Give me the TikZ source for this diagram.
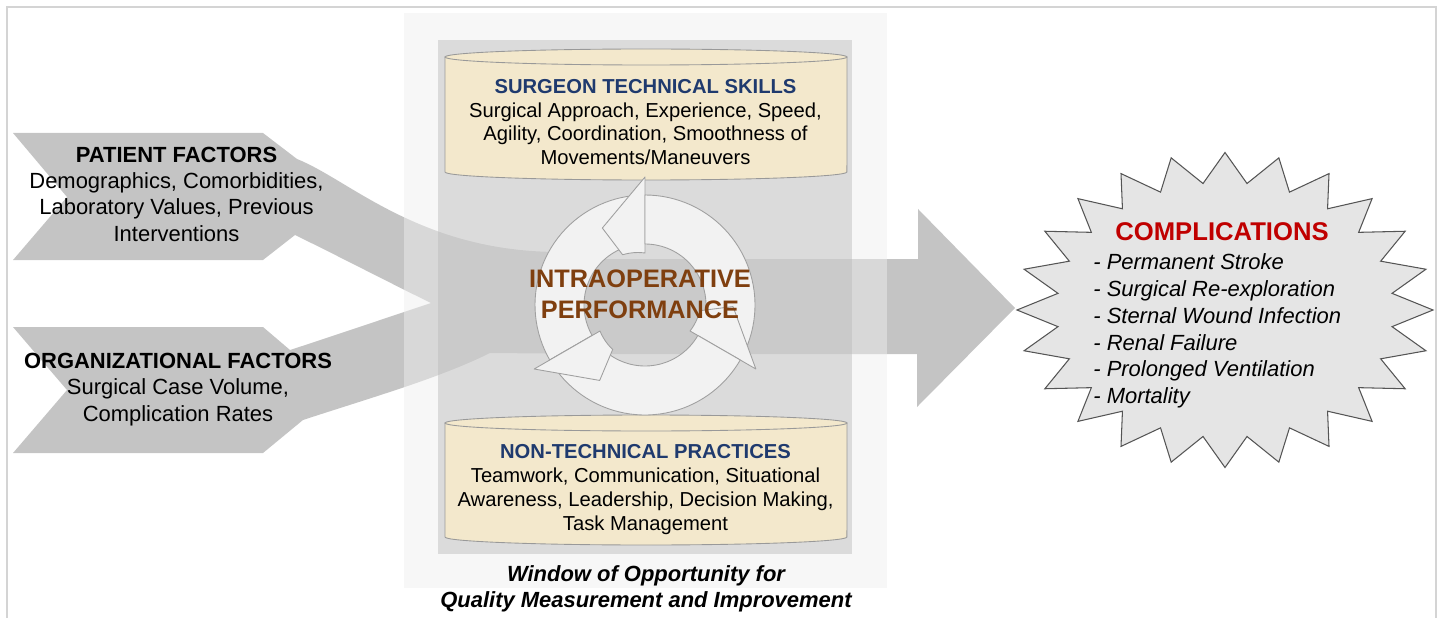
\documentclass[tikz,border=0pt]{standalone}
\usepackage{fontspec}
\setmainfont{Liberation Sans}
\usetikzlibrary{arrows.meta,positioning}

\definecolor{framegray}{HTML}{D4D4D4}
\definecolor{flowgray}{HTML}{C4C4C4}
\definecolor{windowgray}{HTML}{EEEEEE}
\definecolor{panelgray}{HTML}{BBBBBB}
\definecolor{cylbeige}{HTML}{F3E8CC}
\definecolor{cyledge}{HTML}{999999}
\definecolor{ringfill}{HTML}{F2F2F2}
\definecolor{ringedge}{HTML}{A0A0A0}
\definecolor{burstfill}{HTML}{E5E5E5}
\definecolor{burstedge}{HTML}{555555}
\definecolor{skillblue}{HTML}{1F3A6E}
\definecolor{perfbrown}{HTML}{7F3F0F}
\definecolor{complred}{HTML}{C00000}

\begin{document}
\begin{tikzpicture}[x=0.02cm, y=-0.02cm,
  every node/.style={inner sep=0pt, font=\fontsize{12.5}{15}\selectfont},
  factor/.style={align=center},
  cyltext/.style={align=center, font=\fontsize{11.5}{13.5}\selectfont},
  flow/.style={fill=flowgray},
  cyl/.style={fill=cylbeige, draw=cyledge, line width=0.5pt},
  ringseg/.style={fill=ringfill, draw=ringedge, line width=0.5pt, line join=round},
  burst/.style={fill=burstfill, draw=burstedge, line width=0.6pt, line join=miter}
]
  \useasboundingbox (0,0) rectangle (1439,618);
  \draw[framegray, line width=1.1pt] (7,618) -- (7,7) -- (1436,7) -- (1436,618);

  % factor chevrons flowing into the outcome arrow
  \path[flow] (13,133) -- (263,133) -- (297,159)
    .. controls (350,180) and (420,252) .. (560,252) -- (600,252) -- (600,320) -- (431,303)
    .. controls (390,283) and (340,257) .. (295,235) -- (263,260) -- (13,260) -- (67,197) -- cycle;
  \path[flow] (13,327) -- (263,327) -- (290,350)
    .. controls (330,337) and (380,320) .. (431,303) -- (600,290) -- (600,354) -- (490,353)
    .. controls (440,378) and (370,398) .. (303,420) -- (263,453) -- (13,453) -- (67,390) -- cycle;
  \path[flow] (580,259) -- (918,259) -- (918,209) -- (1015,308) -- (917,407) -- (917,354)
    -- (580,354) -- cycle;

  \fill[windowgray, fill opacity=0.48] (404,13) rectangle (887,588);
  \fill[panelgray, fill opacity=0.45] (438,40) rectangle (852,554);

  \path[cyl] (445,57) -- (445,172) arc[start angle=180, end angle=360,
    x radius=4.02cm, y radius=0.16cm] -- (847,57) -- cycle;
  \path[cyl] (646,57) ellipse[x radius=4.02cm, y radius=0.16cm];
  \path[cyl] (445,423) -- (445,537) arc[start angle=180, end angle=360,
    x radius=4.02cm, y radius=0.16cm] -- (847,423) -- cycle;
  \path[cyl] (646,423) ellipse[x radius=4.02cm, y radius=0.16cm];

  \begin{scope}[shift={(645,305)}]
    \foreach \e [evaluate=\e as \s using \e-120] in {-90,30,150}{
      \path[ringseg] (\s:61) -- (\s:110)
        -- plot[domain=\s:\e, samples=40] (\x:110) -- (\e:61)
        -- plot[domain=\e:\s, samples=40] (\x:61) -- cycle;
      \path[ringseg] (\e:128) -- (\e:52)
        -- plot[domain=\e:\e-24, samples=7] (\x:{52+(\e-\x)/8})
        -- ({\e-29}:88) -- cycle;
    }
  \end{scope}

  \path[burst] plot[samples at={0,...,47}]
    ({1225+208*(1-0.19*mod(\x,2))*cos(7.5*\x-90)},
     {310+157.5*(1-0.19*mod(\x,2))*sin(7.5*\x-90)}) -- cycle;
  \coordinate (burst) at (1225,310);

  \node[factor] (patient) at (176.5,194)
    {\textbf{PATIENT FACTORS}\\Demographics, Comorbidities,\\Laboratory Values, Previous\\Interventions};
  \node[factor] (organization) at (178,389.5)
    {\textbf{ORGANIZATIONAL FACTORS}\\Surgical Case Volume,\\Complication Rates};
  \node[cyltext] (technical) at (645.5,122)
    {\textcolor{skillblue}{\textbf{SURGEON TECHNICAL SKILLS}}\\Surgical Approach, Experience, Speed,\\Agility, Coordination, Smoothness of\\Movements/Maneuvers};
  \node[cyltext] (nontechnical) at (645.5,489.5)
    {\textcolor{skillblue}{\textbf{NON-TECHNICAL PRACTICES}}\\Teamwork, Communication, Situational\\Awareness, Leadership, Decision Making,\\Task Management};
  \node[align=center, text=perfbrown, font=\bfseries\fontsize{14.4}{17.6}\selectfont]
    (performance) at (640,294) {INTRAOPERATIVE\\PERFORMANCE};
  \node[align=center, font=\bfseries\itshape\fontsize{12.5}{15}\selectfont]
    (window) at (646,589) {Window of Opportunity for\\Quality Measurement and Improvement};
  \node[text=complred, font=\bfseries\fontsize{14.6}{17}\selectfont]
    (complications) at (1222,232) {COMPLICATIONS};
  \node[anchor=west, align=left, font=\itshape\fontsize{12.5}{15.2}\selectfont]
    (outcomes) at (1093,331) {- Permanent Stroke\\- Surgical Re-exploration\\- Sternal Wound Infection\\- Renal Failure\\- Prolonged Ventilation\\- Mortality};
\end{tikzpicture}
\end{document}
